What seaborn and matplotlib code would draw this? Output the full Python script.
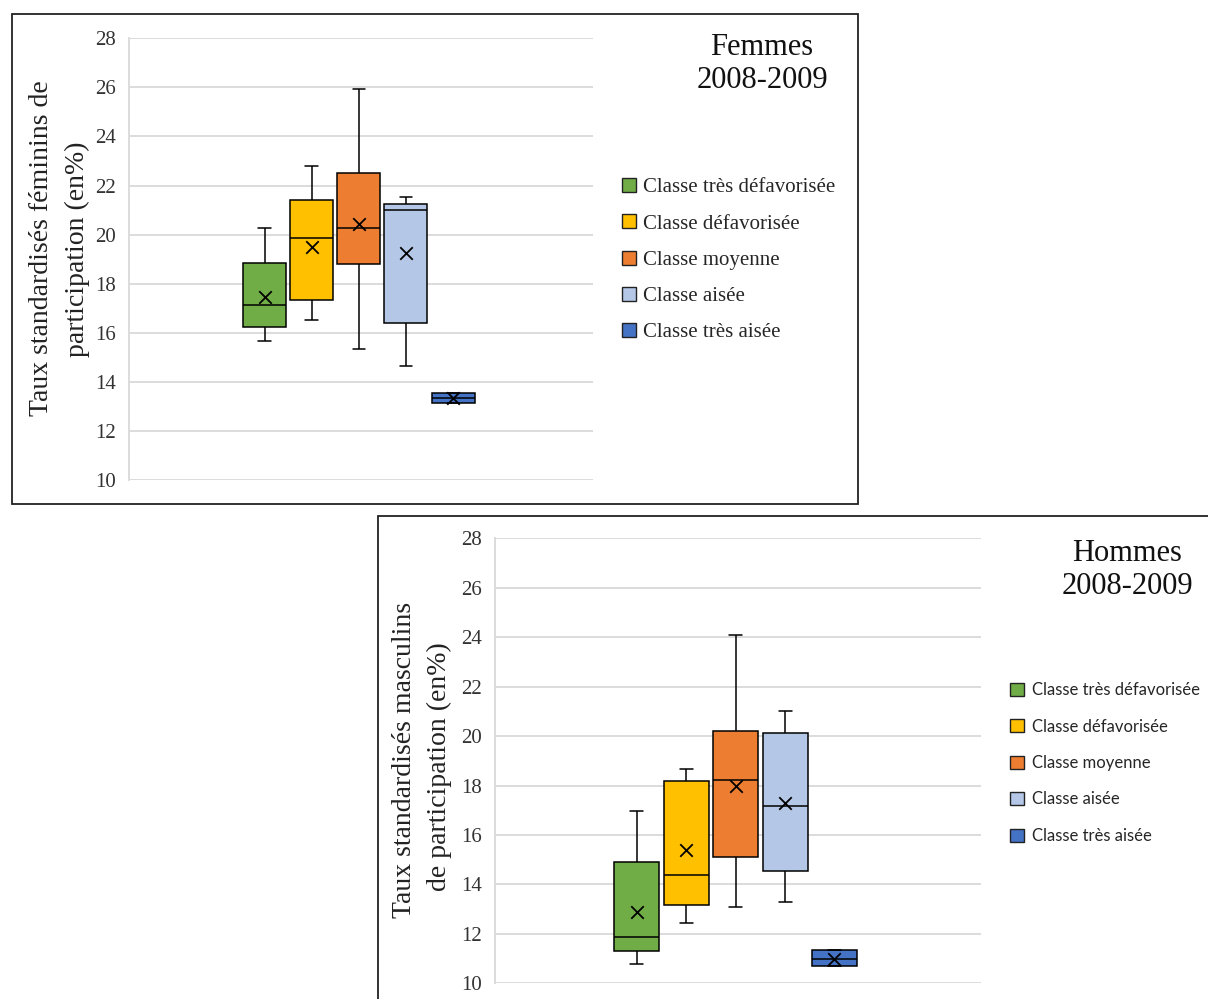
import numpy as np
import pandas as pd
import matplotlib
matplotlib.use('Agg')
import matplotlib.pyplot as plt
from matplotlib.patches import Patch, Rectangle
import seaborn as sns

classes = ['Classe très défavorisée', 'Classe défavorisée', 'Classe moyenne',
           'Classe aisée', 'Classe très aisée']
couleurs = ['#70AD47', '#FFC000', '#ED7D31', '#B4C7E7', '#4472C4']

# Femmes 2008-2009 : min, Q1, mediane, Q3, max, moyenne (X)
f_min = [15.65, 16.5, 15.35, 14.65, 13.15]
f_q1 = [16.25, 17.35, 18.8, 16.4, 13.15]
f_med = [17.15, 19.85, 20.25, 21.0, 13.35]
f_q3 = [18.85, 21.4, 22.5, 21.25, 13.55]
f_max = [20.25, 22.8, 25.95, 21.55, 13.55]
f_moy = [17.45, 19.5, 20.45, 19.25, 13.35]

# Hommes 2008-2009
h_min = [10.77, 12.45, 13.08, 13.3, 10.7]
h_q1 = [11.3, 13.15, 15.11, 14.53, 10.7]
h_med = [11.89, 14.39, 18.24, 17.19, 11.0]
h_q3 = [14.89, 18.19, 20.19, 20.14, 11.33]
h_max = [16.98, 18.67, 24.09, 21.03, 11.33]
h_moy = [12.88, 15.41, 17.98, 17.31, 11.0]

yticks = [10, 12, 14, 16, 18, 20, 22, 24, 26, 28]

sns.set_style('white')
plt.rcParams['font.family'] = ['Liberation Serif', 'DejaVu Serif']

W, H = 1208, 999
fig = plt.figure(figsize=(W / 100, H / 100), dpi=100)


def fx(px):
    return px / W


def fy(py):
    return 1 - py / H


def panneau(ax, mins, q1s, meds, q3s, maxs, moys):
    rows = []
    for c, a, b, m, d, e in zip(classes, mins, q1s, meds, q3s, maxs):
        for v in (a, b, m, d, e):
            rows.append([' ', c, v])
    df = pd.DataFrame(rows, columns=['groupe', 'classe', 'valeur'])
    sns.boxplot(data=df, x='groupe', y='valeur', hue='classe', hue_order=classes,
                palette=couleurs, width=0.8, gap=0.09, whis=(0, 100), saturation=1,
                linecolor='black', linewidth=1.1, legend=False, capwidths=0.042, ax=ax)
    dm = pd.DataFrame({'groupe': ' ', 'classe': classes, 'moyenne': moys})
    sns.stripplot(data=dm, x='groupe', y='moyenne', hue='classe', hue_order=classes,
                  palette=['black'] * 5, dodge=True, jitter=False, marker='x',
                  size=9, linewidth=1.3, legend=False, ax=ax, zorder=5)
    ax.set_xlim(-0.78, 0.795)
    ax.set_ylim(10, 28)
    ax.set_yticks(yticks)
    ax.set_xticks([])
    ax.set_xlabel('')
    ax.set_ylabel('')
    ax.yaxis.grid(True, color='#d9d9d9', linewidth=1.3)
    ax.set_axisbelow(True)
    for s in ['top', 'right', 'bottom']:
        ax.spines[s].set_visible(False)
    ax.spines['left'].set_color('#d9d9d9')
    ax.spines['left'].set_linewidth(1.3)
    ax.tick_params(axis='y', length=0, pad=9.4, labelsize=15, labelcolor='#333333')


# cadre et graphique du haut (femmes)
fig.patches.append(Rectangle((fx(12), fy(504)), fx(858 - 12), (504 - 14) / H,
                             transform=fig.transFigure, fill=False, lw=1.3,
                             ec='#222222', zorder=0))
ax1 = fig.add_axes([fx(129), fy(480), fx(593 - 129), (480 - 38.3) / H])
panneau(ax1, f_min, f_q1, f_med, f_q3, f_max, f_moy)

# cadre et graphique du bas (hommes)
fig.patches.append(Rectangle((fx(378), -0.01), 1, fy(516) + 0.01,
                             transform=fig.transFigure, fill=False, lw=1.3,
                             ec='#222222', zorder=0))
ax2 = fig.add_axes([fx(495), fy(983.3), fx(981 - 495), (983.3 - 538.4) / H])
panneau(ax2, h_min, h_q1, h_med, h_q3, h_max, h_moy)

# titres des axes y
lab = dict(rotation=90, rotation_mode='anchor', ha='center', va='baseline',
           fontsize=20, color='#222222')
fig.text(fx(48), fy(248), 'Taux standardisés féminins de', **lab)
fig.text(fx(84), fy(249), 'participation (en%)', **lab)
fig.text(fx(411), fy(760), 'Taux standardisés masculins', **lab)
fig.text(fx(446), fy(767), 'de participation (en%)', **lab)

# titres des panneaux
fig.text(fx(762), fy(33), 'Femmes\n2008-2009', ha='center', va='top',
         fontsize=22, linespacing=1.2, color='#111111')
fig.text(fx(1127), fy(539), 'Hommes\n2008-2009', ha='center', va='top',
         fontsize=22, linespacing=1.2, color='#111111')

# legendes
handles = [Patch(facecolor=c, edgecolor='#222222', linewidth=1.0) for c in couleurs]
ax1.legend(handles, classes, loc='upper left', bbox_to_anchor=(fx(622), fy(178)),
           bbox_transform=fig.transFigure, frameon=False, fontsize=15,
           handlelength=0.67, handleheight=0.67, handletextpad=0.34,
           labelspacing=0.81, borderpad=0, borderaxespad=0)
handles2 = [Patch(facecolor=c, edgecolor='#222222', linewidth=1.0) for c in couleurs]
ax2.legend(handles2, classes, loc='upper left', bbox_to_anchor=(fx(1010), fy(682)),
           bbox_transform=fig.transFigure, frameon=False,
           prop={'family': ['Lato', 'DejaVu Sans'], 'size': 12},
           handlelength=0.84, handleheight=0.84, handletextpad=0.48,
           labelspacing=1.23, borderpad=0, borderaxespad=0)

fig.savefig('out.png', dpi=100)
